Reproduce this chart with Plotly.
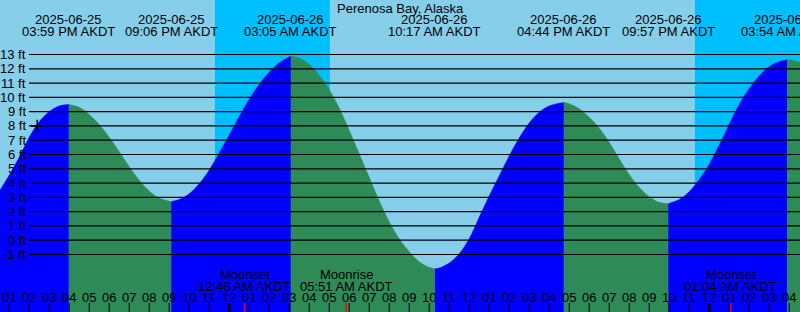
import plotly.graph_objects as go
from datetime import datetime

# ---------------- data ----------------
TITLE = "Perenosa Bay, Alaska"
REF = datetime(2025, 6, 26, 0, 0)  # hours are counted from this midnight (AKDT)

# tide extremes (high / low)
event_stamp = ["2025-06-25 03:59 PM", "2025-06-25 09:06 PM", "2025-06-26 03:05 AM",
               "2025-06-26 10:17 AM", "2025-06-26 04:44 PM", "2025-06-26 09:57 PM",
               "2025-06-27 03:54 AM"]
event_ft = [9.5, 2.7, 12.9, -2.0, 9.64, 2.56, 12.63]

# tide height at half-hour marks (hours from midnight 2025-06-26)
sample_t = [-11.46, -11.0, -10.5, -10.0, -9.5, -9.0, -8.5,
            -7.5, -7.0, -6.5, -6.0, -5.5, -5.0, -4.5, -4.0, -3.5,
            -2.5, -2.0, -1.5, -1.0, -0.5, 0.0, 0.5, 1.0, 1.5, 2.0, 2.5,
            3.5, 4.0, 4.5, 5.0, 5.5, 6.0, 6.5, 7.0, 7.5, 8.0, 8.5, 9.0, 9.5, 10.0,
            10.5, 11.0, 11.5, 12.0, 12.5, 13.0, 13.5, 14.0, 14.5, 15.0, 15.5, 16.0,
            17.0, 17.5, 18.0, 18.5, 19.0, 19.5, 20.0, 20.5, 21.0, 21.5,
            22.5, 23.0, 23.5, 24.0, 24.5, 25.0, 25.5, 26.0, 26.5, 27.0, 27.5,
            28.2, 28.54]
sample_ft = [3.5, 4.55, 5.8, 7.2, 8.3, 9.0, 9.4,
             9.3, 8.8, 8.1, 7.2, 6.2, 5.15, 4.2, 3.45, 2.95,
             2.85, 3.25, 3.95, 4.9, 6.1, 7.35, 8.65, 9.85, 10.9, 11.75, 12.4,
             12.75, 12.3, 11.55, 10.55, 9.25, 7.7, 6.05, 4.4, 2.75, 1.3, 0.1, -0.8, -1.5, -1.9,
             -1.95, -1.6, -0.95, 0.1, 1.6, 3.1, 4.5, 5.9, 7.15, 8.2, 8.95, 9.4,
             9.55, 9.2, 8.6, 7.85, 6.85, 5.7, 4.6, 3.7, 3.05, 2.65,
             2.85, 3.4, 4.25, 5.3, 6.65, 8.1, 9.5, 10.6, 11.5, 12.15, 12.5,
             12.58, 12.45]

# night (sunset -> sunrise)
night_start = ["2025-06-25 11:17 PM", "2025-06-26 11:17 PM"]
night_end = ["2025-06-26 05:02 AM", "2025-06-27 04:35 AM"]

# moon events
moon_stamp = ["2025-06-26 12:46 AM", "2025-06-26 05:51 AM", "2025-06-27 01:04 AM"]
moon_name = ["Moonset", "Moonrise", "Moonset"]

# hour ticks and level lines
hour_t = list(range(-11, 29))
level_ft = list(range(-1, 14))

now_t, now_ft = -9.6, 8.0

X_RANGE = [-11.46, 28.54]
Y_RANGE = [-5.025, 16.815]

SKY = "#87CEEB"
NIGHT = "#00BFFF"
RISE = "#0000FF"
FALL = "#2E8B57"
FONT = "Liberation Sans"
FS = 13


def to_h(s):
    d = datetime.strptime(s, "%Y-%m-%d %I:%M %p")
    return (d - REF).total_seconds() / 3600.0


event_t = [to_h(s) for s in event_stamp]

pts = sorted([(t, h, False) for t, h in zip(sample_t, sample_ft)] +
             [(t, h, True) for t, h in zip(event_t, event_ft)])
bounds = [0] + [i for i, p in enumerate(pts) if p[2]] + [len(pts) - 1]

fig = go.Figure()
for a, b in zip(bounds[:-1], bounds[1:]):
    seg = pts[a:b + 1]
    xs = [p[0] for p in seg]
    ys = [p[1] for p in seg]
    col = RISE if ys[-1] > ys[0] else FALL
    fig.add_trace(go.Scatter(x=[xs[0], xs[-1]], y=[Y_RANGE[0] - 5] * 2, mode="lines",
                             line=dict(width=0, color=col), hoverinfo="skip", showlegend=False))
    fig.add_trace(go.Scatter(x=xs, y=ys, mode="lines", fill="tonexty", fillcolor=col,
                             line=dict(width=0.5, color=col, shape="spline", smoothing=1.0),
                             hoverinfo="skip", showlegend=False))

fig.add_trace(go.Scatter(x=[now_t], y=[now_ft], mode="markers",
                         marker=dict(symbol="cross-thin", size=9, line=dict(width=1.5, color="black")),
                         showlegend=False, hoverinfo="skip"))

shapes = []
for s, e in zip(night_start, night_end):
    shapes.append(dict(type="rect", xref="x", yref="paper", x0=to_h(s), x1=to_h(e), y0=0, y1=1,
                       fillcolor=NIGHT, line=dict(width=0), layer="below"))
for v in level_ft:
    shapes.append(dict(type="line", xref="paper", yref="y", x0=29 / 800, x1=1, y0=v, y1=v,
                       line=dict(color="black", width=1.2), layer="above"))
for t in hour_t:
    w = 3 if t % 24 == 0 else 1
    shapes.append(dict(type="line", xref="x", yref="paper", x0=t, x1=t, y0=0, y1=9 / 312,
                       line=dict(color="black", width=w), layer="above"))
for s in moon_stamp:
    t = to_h(s)
    shapes.append(dict(type="line", xref="x", yref="paper", x0=t, x1=t, y0=0, y1=9 / 312,
                       line=dict(color="red", width=1.5), layer="above"))

ann = []
f = dict(family=FONT, size=FS, color="black")
ann.append(dict(text=TITLE, x=0.5, y=1 - 8 / 312, xref="paper", yref="paper",
                showarrow=False, font=f, xanchor="center", yanchor="middle"))
for s, t in zip(event_stamp, event_t):
    d = datetime.strptime(s, "%Y-%m-%d %I:%M %p")
    ann.append(dict(text=d.strftime("%Y-%m-%d"), x=t, y=1 - 19.5 / 312, xref="x", yref="paper",
                    showarrow=False, font=f, xanchor="center", yanchor="middle"))
    ann.append(dict(text=d.strftime("%I:%M %p") + " AKDT", x=t, y=1 - 31.5 / 312, xref="x",
                    yref="paper", showarrow=False, font=f, xanchor="center", yanchor="middle"))
for s, n in zip(moon_stamp, moon_name):
    t = to_h(s)
    d = datetime.strptime(s, "%Y-%m-%d %I:%M %p")
    ann.append(dict(text=n, x=t, y=1 - 274 / 312, xref="x", yref="paper",
                    showarrow=False, font=f, xanchor="center", yanchor="middle"))
    ann.append(dict(text=d.strftime("%I:%M %p") + " AKDT", x=t, y=1 - 286 / 312, xref="x",
                    yref="paper", showarrow=False, font=f, xanchor="center", yanchor="middle"))
for v in level_ft:
    ann.append(dict(text=f"{v} ft", x=27.5 / 800, y=v, xref="paper", yref="y",
                    showarrow=False, font=f, xanchor="right", yanchor="middle"))
for t in hour_t:
    hh = t % 12
    hh = 12 if hh == 0 else hh
    ann.append(dict(text=f"{hh:02d}", x=t, y=1 - 297 / 312, xref="x", yref="paper",
                    showarrow=False, font=f, xanchor="center", yanchor="middle"))

fig.update_layout(
    width=800, height=312, margin=dict(l=0, r=0, t=0, b=0),
    paper_bgcolor=SKY, plot_bgcolor=SKY,
    xaxis=dict(range=X_RANGE, visible=False, fixedrange=True),
    yaxis=dict(range=Y_RANGE, visible=False, fixedrange=True),
    shapes=shapes, annotations=ann, showlegend=False,
)
fig.write_html("out.html", config=dict(displayModeBar=False),
               post_script="document.body.style.margin='0';document.body.style.overflow='hidden';")
